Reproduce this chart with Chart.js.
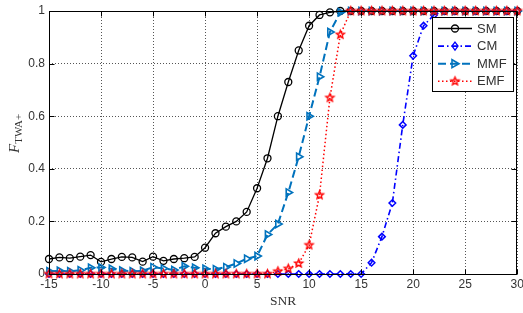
<!DOCTYPE html>
<html><head><meta charset="utf-8">
<script src="https://cdn.jsdelivr.net/npm/chart.js@4.4.1/dist/chart.umd.min.js"></script>
<style>html,body{margin:0;padding:0;background:#fff}#wrap{width:523px;height:313px}</style>
</head><body><div id="wrap"><canvas id="c" width="523" height="313"></canvas></div>
<script>
const snr = [-15,-14,-13,-12,-11,-10,-9,-8,-7,-6,-5,-4,-3,-2,-1,0,1,2,3,4,5,6,7,8,9,10,11,12,13,14,15,16,17,18,19,20,21,22,23,24,25,26,27,28,29,30];
const SM  = [0.057,0.063,0.060,0.066,0.072,0.046,0.057,0.065,0.063,0.047,0.066,0.050,0.057,0.060,0.065,0.100,0.155,0.180,0.200,0.236,0.326,0.440,0.600,0.730,0.850,0.944,0.985,0.995,1,1,1,1,1,1,1,1,1,1,1,1,1,1,1,1,1,1];
const CM  = [0,0,0,0,0,0,0,0,0,0,0,0,0,0,0,0,0,0,0,0,0,0,0,0,0,0,0,0,0,0,0,0.043,0.142,0.270,0.567,0.830,0.944,0.985,1,1,1,1,1,1,1,1];
const MMF = [0.010,0.012,0.010,0.014,0.024,0.025,0.020,0.013,0.010,0.012,0.026,0.021,0.015,0.029,0.024,0.020,0.018,0.026,0.040,0.058,0.068,0.150,0.190,0.310,0.446,0.600,0.750,0.920,0.995,1,1,1,1,1,1,1,1,1,1,1,1,1,1,1,1,1];
const EMF = [0,0,0,0,0,0,0,0,0,0,0,0,0,0,0,0,0,0,0,0,0,0,0.010,0.020,0.040,0.110,0.300,0.670,0.910,1,1,1,1,1,1,1,1,1,1,1,1,1,1,1,1,1];
const xTicks = [-15,-10,-5,0,5,10,15,20,25,30];
const yTicks = [0,0.2,0.4,0.6,0.8,1];
const names = ['SM','CM','MMF','EMF'];
const xTitle = 'SNR';

function starCanvas(color, r) {
  const c = document.createElement('canvas');
  const s = Math.ceil(r * 2 + 4);
  c.width = s; c.height = s;
  const g = c.getContext('2d');
  g.beginPath();
  for (let i = 0; i < 10; i++) {
    const a = -Math.PI / 2 + i * Math.PI / 5;
    const rr = i % 2 ? r * 0.45 : r;
    g.lineTo(s / 2 + rr * Math.cos(a), s / 2 + rr * Math.sin(a));
  }
  g.closePath();
  g.strokeStyle = color; g.lineWidth = 1.4; g.stroke();
  return c;
}
const starImg = starCanvas('#ff0000', 4.2);
const pts = arr => snr.map((x, i) => ({x: x, y: arr[i]}));

const styles = [
  {color:'#000000', dash:[], width:1.3, marker:'circle'},
  {color:'#0000ff', dash:[6,3,1.5,3], width:1.6, marker:'diamond'},
  {color:'#0072bd', dash:[8,4], width:2, marker:'tri'},
  {color:'#ff0000', dash:[1.5,2.5], width:1.5, marker:'star'}
];

function drawMarker(ctx, kind, x, y, color) {
  ctx.save();
  ctx.strokeStyle = color; ctx.lineWidth = 1.3; ctx.setLineDash([]);
  ctx.beginPath();
  if (kind === 'circle') { ctx.arc(x, y, 3.5, 0, Math.PI * 2); ctx.stroke(); }
  else if (kind === 'diamond') { ctx.moveTo(x, y-4); ctx.lineTo(x+3, y); ctx.lineTo(x, y+4); ctx.lineTo(x-3, y); ctx.closePath(); ctx.stroke(); }
  else if (kind === 'tri') { ctx.lineWidth = 1.6; ctx.moveTo(x+4, y); ctx.lineTo(x-3, y-4); ctx.lineTo(x-3, y+4); ctx.closePath(); ctx.stroke(); }
  else { ctx.drawImage(starImg, x - starImg.width/2, y - starImg.height/2); }
  ctx.restore();
}

const framePlugin = {
  id: 'frame',
  afterDraw(chart) {
    const ctx = chart.ctx, a = chart.chartArea;
    const xs = chart.scales.x, ys = chart.scales.y;
    ctx.save();
    ctx.strokeStyle = '#000'; ctx.lineWidth = 1; ctx.setLineDash([]);
    const L = Math.round(a.left) + 0.5, R = Math.round(a.right) - 0.5, T = Math.round(a.top) + 0.5, B = Math.round(a.bottom) + 0.5;
    ctx.strokeRect(L, T, R - L, B - T);
    ctx.beginPath();
    xTicks.forEach(v => { const px = Math.round(xs.getPixelForValue(v)) + 0.5; ctx.moveTo(px, B); ctx.lineTo(px, B - 5); ctx.moveTo(px, T); ctx.lineTo(px, T + 5); });
    yTicks.forEach(v => { const py = Math.round(ys.getPixelForValue(v)) + 0.5; ctx.moveTo(L, py); ctx.lineTo(L + 5, py); ctx.moveTo(R, py); ctx.lineTo(R - 5, py); });
    ctx.stroke();

    // axis titles
    ctx.fillStyle = '#333';
    ctx.font = '13.5px "Liberation Serif"';
    ctx.textAlign = 'center'; ctx.textBaseline = 'middle';
    ctx.fillText(xTitle, (a.left + a.right) / 2, 301);
    ctx.save();
    ctx.translate(19, 153); ctx.rotate(-Math.PI / 2);
    ctx.textAlign = 'left'; ctx.textBaseline = 'alphabetic';
    ctx.font = 'italic 15px "Liberation Serif"';
    ctx.fillText('F', 0, 0);
    const fw = ctx.measureText('F').width;
    ctx.font = '11px "Liberation Serif"';
    ctx.fillText('TWA+', fw, 3);
    ctx.restore();

    // legend
    const bx = 432.5, by = 17.5, bw = 81, bh = 74;
    ctx.fillStyle = '#fff'; ctx.fillRect(bx, by, bw, bh);
    ctx.strokeStyle = '#000'; ctx.lineWidth = 1; ctx.strokeRect(bx, by, bw, bh);
    names.forEach((n, i) => {
      const y = 28.5 + i * 17.6, s = styles[i];
      ctx.save();
      ctx.strokeStyle = s.color; ctx.lineWidth = s.width; ctx.setLineDash(s.dash);
      ctx.beginPath(); ctx.moveTo(438, y); ctx.lineTo(472, y); ctx.stroke();
      ctx.restore();
      drawMarker(ctx, s.marker, 455, y, s.color);
      ctx.fillStyle = '#333'; ctx.font = '13px "Liberation Sans"';
      ctx.textAlign = 'left'; ctx.textBaseline = 'middle';
      ctx.fillText(n, 477, y + 0.5);
    });
    ctx.restore();
  }
};

const tickFont = {family: '"Liberation Sans"', size: 12};
new Chart(document.getElementById('c'), {
  type: 'line',
  data: {
    datasets: [
      {label: names[0], data: pts(SM), borderColor: styles[0].color, borderWidth: styles[0].width, borderDash: styles[0].dash,
       pointStyle: 'circle', pointRadius: 3.5, pointBorderColor: styles[0].color, pointBackgroundColor: 'rgba(0,0,0,0)', pointBorderWidth: 1.3, order: 3, clip: false},
      {label: names[1], data: pts(CM), borderColor: styles[1].color, borderWidth: styles[1].width, borderDash: styles[1].dash,
       pointStyle: 'rectRot', pointRadius: 3.3, pointBorderColor: styles[1].color, pointBackgroundColor: 'rgba(0,0,0,0)', pointBorderWidth: 1.5, order: 2, clip: false},
      {label: names[2], data: pts(MMF), borderColor: styles[2].color, borderWidth: styles[2].width, borderDash: styles[2].dash,
       pointStyle: 'triangle', pointRotation: 90, pointRadius: 4.2, pointBorderColor: styles[2].color, pointBackgroundColor: 'rgba(0,0,0,0)', pointBorderWidth: 1.6, order: 1, clip: false},
      {label: names[3], data: pts(EMF), borderColor: styles[3].color, borderWidth: styles[3].width, borderDash: styles[3].dash,
       pointStyle: starImg, pointRadius: 4, pointBorderColor: styles[3].color, order: 0, clip: false}
    ]
  },
  options: {
    responsive: false, animation: false, devicePixelRatio: 1,
    layout: {padding: {left: 0, right: 5, top: 11, bottom: 0}},
    elements: {line: {tension: 0, fill: false}},
    plugins: {legend: {display: false}, tooltip: {enabled: false}},
    scales: {
      x: {
        type: 'linear', min: -15, max: 30,
        afterBuildTicks: s => { s.ticks = xTicks.map(v => ({value: v})); },
        afterFit: s => { s.height = 39; s.paddingLeft = 0; s.paddingRight = 0; },
        grid: {color: '#555', lineWidth: 1, drawTicks: false},
        border: {display: false, dash: [1, 2]},
        ticks: {font: tickFont, color: '#333', padding: 3, maxRotation: 0, autoSkip: false, callback: v => String(v)}
      },
      y: {
        min: 0, max: 1,
        afterBuildTicks: s => { s.ticks = yTicks.map(v => ({value: v})); },
        afterFit: s => { s.width = 49; s.paddingTop = 0; s.paddingBottom = 0; },
        grid: {color: '#555', lineWidth: 1, drawTicks: false},
        border: {display: false, dash: [1, 2]},
        ticks: {font: tickFont, color: '#333', padding: 4, callback: v => String(v)}
      }
    }
  },
  plugins: [framePlugin]
});
</script>
</body></html>
